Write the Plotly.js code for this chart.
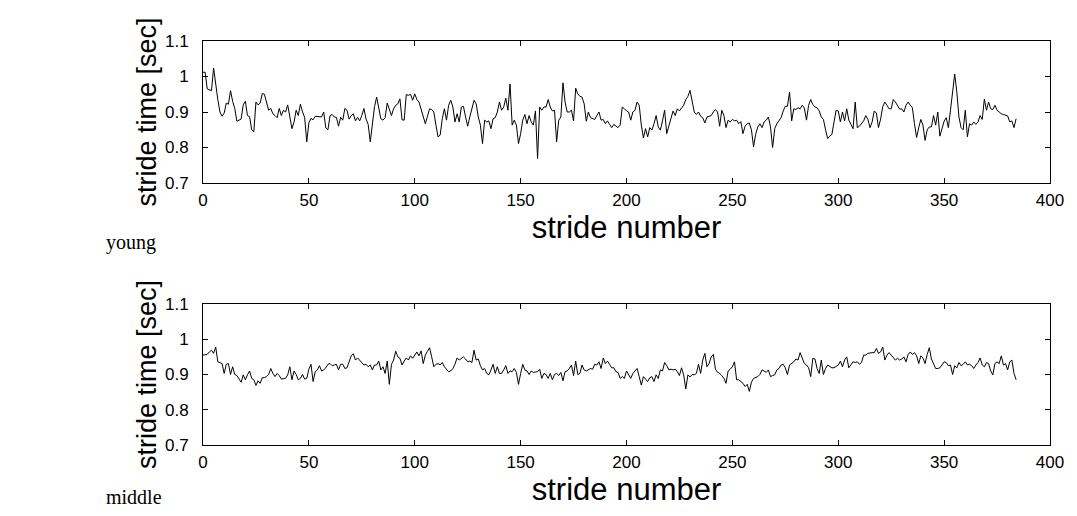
<!DOCTYPE html>
<html>
<head>
<meta charset="utf-8">
<script src="https://cdn.plot.ly/plotly-3.0.1.min.js"></script>
<style>
html,body{margin:0;padding:0;background:#fff;}
#chart{width:1077px;height:516px;}
</style>
</head>
<body>
<div id="chart"></div>
<script>
// Stride time [sec] per stride
const youngStrideTime = [
1.012,1.012,0.965,0.962,0.960,1.024,0.970,0.935,0.900,0.888,
0.897,0.925,0.922,0.960,0.930,0.910,0.874,0.876,0.880,0.920,
0.930,0.890,0.887,0.850,0.844,0.928,0.920,0.925,0.952,0.950,
0.928,0.905,0.910,0.895,0.890,0.884,0.910,0.890,0.905,0.900,
0.920,0.880,0.853,0.872,0.905,0.890,0.922,0.900,0.885,0.816,
0.870,0.882,0.878,0.888,0.887,0.888,0.886,0.900,0.855,0.850,
0.890,0.893,0.886,0.885,0.860,0.885,0.877,0.910,0.905,0.880,
0.890,0.895,0.875,0.885,0.875,0.890,0.910,0.880,0.865,0.816,
0.870,0.915,0.942,0.914,0.881,0.877,0.884,0.925,0.909,0.890,
0.909,0.919,0.923,0.937,0.878,0.877,0.949,0.947,0.950,0.933,
0.951,0.935,0.928,0.909,0.886,0.867,0.888,0.909,0.907,0.900,
0.863,0.830,0.835,0.881,0.909,0.877,0.919,0.933,0.914,0.872,
0.895,0.872,0.914,0.916,0.886,0.860,0.886,0.909,0.933,0.923,
0.886,0.863,0.811,0.877,0.872,0.875,0.853,0.881,0.884,0.900,
0.928,0.905,0.914,0.939,0.905,0.979,0.863,0.877,0.863,0.811,
0.839,0.877,0.893,0.867,0.890,0.872,0.863,0.903,0.769,0.914,
0.905,0.914,0.914,0.935,0.914,0.903,0.905,0.816,0.877,0.886,
0.982,0.928,0.900,0.900,0.905,0.875,0.967,0.951,0.944,0.942,
0.923,0.874,0.900,0.884,0.881,0.879,0.890,0.900,0.877,0.879,
0.867,0.875,0.865,0.856,0.865,0.860,0.856,0.863,0.914,0.909,
0.903,0.900,0.877,0.900,0.905,0.928,0.919,0.863,0.827,0.853,
0.830,0.856,0.849,0.867,0.890,0.858,0.849,0.875,0.905,0.839,
0.863,0.886,0.903,0.890,0.909,0.903,0.911,0.919,0.935,0.944,
0.961,0.925,0.900,0.893,0.900,0.888,0.884,0.869,0.886,0.888,
0.890,0.900,0.907,0.900,0.860,0.905,0.890,0.856,0.877,0.872,
0.879,0.875,0.877,0.867,0.873,0.839,0.860,0.867,0.869,0.850,
0.802,0.837,0.858,0.867,0.856,0.872,0.877,0.886,0.858,0.800,
0.853,0.867,0.875,0.884,0.903,0.916,0.916,0.956,0.875,0.909,
0.907,0.912,0.909,0.919,0.911,0.877,0.919,0.935,0.921,0.914,
0.912,0.903,0.886,0.879,0.850,0.825,0.832,0.837,0.872,0.905,
0.903,0.872,0.900,0.875,0.909,0.877,0.865,0.853,0.928,0.856,
0.860,0.867,0.875,0.890,0.879,0.856,0.872,0.903,0.897,0.856,
0.880,0.915,0.928,0.919,0.909,0.909,0.935,0.928,0.919,0.908,
0.909,0.900,0.919,0.928,0.919,0.912,0.867,0.828,0.856,0.879,
0.863,0.820,0.850,0.858,0.858,0.890,0.863,0.900,0.832,0.853,
0.874,0.884,0.856,0.905,0.956,1.007,0.956,0.886,0.856,0.850,
0.905,0.830,0.867,0.863,0.872,0.865,0.872,0.890,0.879,0.937,
0.905,0.928,0.909,0.907,0.919,0.905,0.900,0.895,0.893,0.890,
0.889,0.872,0.875,0.856,0.881
];

const middleStrideTime = [
0.955,0.955,0.957,0.964,0.969,0.960,0.978,0.936,0.934,0.931,
0.903,0.929,0.931,0.900,0.922,0.900,0.897,0.889,0.878,0.899,
0.885,0.899,0.910,0.889,0.885,0.869,0.882,0.875,0.891,0.891,
0.894,0.900,0.917,0.903,0.894,0.903,0.897,0.887,0.889,0.889,
0.899,0.922,0.885,0.910,0.900,0.885,0.889,0.900,0.887,0.889,
0.915,0.929,0.880,0.908,0.913,0.925,0.910,0.913,0.919,0.929,
0.931,0.925,0.927,0.929,0.913,0.929,0.929,0.917,0.919,0.938,
0.953,0.959,0.941,0.947,0.941,0.934,0.927,0.929,0.922,0.927,
0.913,0.927,0.927,0.938,0.913,0.922,0.903,0.938,0.872,0.929,
0.941,0.966,0.950,0.946,0.927,0.938,0.947,0.941,0.953,0.946,
0.955,0.964,0.953,0.967,0.931,0.955,0.966,0.976,0.950,0.922,
0.929,0.931,0.927,0.934,0.922,0.915,0.908,0.910,0.917,0.929,
0.947,0.941,0.947,0.950,0.944,0.936,0.938,0.934,0.969,0.941,
0.944,0.925,0.913,0.917,0.903,0.899,0.913,0.929,0.903,0.922,
0.903,0.903,0.913,0.925,0.903,0.910,0.908,0.917,0.906,0.872,
0.903,0.929,0.913,0.910,0.900,0.910,0.906,0.906,0.908,0.915,
0.889,0.903,0.900,0.889,0.903,0.885,0.900,0.903,0.897,0.906,
0.882,0.908,0.910,0.917,0.927,0.897,0.938,0.900,0.903,0.927,
0.913,0.910,0.913,0.917,0.915,0.929,0.927,0.936,0.917,0.947,
0.931,0.938,0.929,0.919,0.919,0.908,0.906,0.889,0.894,0.889,
0.910,0.899,0.889,0.903,0.910,0.917,0.894,0.870,0.894,0.887,
0.880,0.891,0.894,0.880,0.899,0.889,0.913,0.910,0.934,0.925,
0.913,0.915,0.913,0.915,0.908,0.897,0.919,0.899,0.859,0.899,
0.893,0.900,0.899,0.903,0.929,0.903,0.941,0.960,0.922,0.931,
0.950,0.957,0.915,0.906,0.903,0.897,0.889,0.875,0.910,0.915,
0.922,0.936,0.885,0.885,0.880,0.875,0.866,0.872,0.852,0.878,
0.889,0.891,0.894,0.900,0.913,0.910,0.906,0.913,0.894,0.897,
0.899,0.913,0.917,0.927,0.929,0.919,0.900,0.927,0.931,0.936,
0.944,0.941,0.962,0.946,0.931,0.927,0.919,0.894,0.946,0.944,
0.917,0.903,0.941,0.900,0.917,0.927,0.922,0.919,0.919,0.922,
0.927,0.938,0.922,0.941,0.950,0.919,0.927,0.936,0.934,0.936,
0.929,0.934,0.955,0.955,0.960,0.962,0.962,0.962,0.974,0.960,
0.964,0.978,0.941,0.955,0.962,0.955,0.947,0.941,0.946,0.941,
0.944,0.950,0.936,0.957,0.964,0.957,0.962,0.953,0.931,0.953,
0.947,0.931,0.957,0.976,0.944,0.931,0.917,0.917,0.919,0.927,
0.936,0.934,0.925,0.927,0.900,0.925,0.919,0.934,0.925,0.929,
0.936,0.927,0.929,0.925,0.917,0.927,0.934,0.947,0.927,0.922,
0.934,0.931,0.910,0.899,0.931,0.936,0.931,0.953,0.927,0.931,
0.913,0.936,0.941,0.903,0.885
];

const xTickVals = [0, 50, 100, 150, 200, 250, 300, 350, 400];
const yTickVals = [0.7, 0.8, 0.9, 1.0, 1.1];
const yTickText = ["0.7", "0.8", "0.9", "1", "1.1"];
const groupLabels = ["young", "middle"];
const xTitle = "stride number";
const yTitle = "stride time [sec]";

const W = 1077, H = 516;
const xDom = [203 / W, 1050 / W];
const topDom = [(H - 183) / H, (H - 41) / H];
const botDom = [(H - 445) / H, (H - 304) / H];

const strideIdx = arr => arr.map((_, i) => i);

const traces = [
  {x: strideIdx(youngStrideTime), y: youngStrideTime, xaxis: 'x', yaxis: 'y',
   type: 'scatter', mode: 'lines', line: {color: '#000', width: 1}, hoverinfo: 'x+y'},
  {x: strideIdx(middleStrideTime), y: middleStrideTime, xaxis: 'x2', yaxis: 'y2',
   type: 'scatter', mode: 'lines', line: {color: '#000', width: 1}, hoverinfo: 'x+y'}
];

const sans = 'Liberation Sans, Arial, sans-serif';
const xTickFont = {family: sans, size: 17, color: '#000'};
const yTickFont = {family: sans, size: 17, color: '#000'};

function xAxis(anchor) {
  return {
    domain: xDom, anchor: anchor, range: [0, 400], tickvals: xTickVals,
    ticks: 'inside', ticklen: 5, tickwidth: 1, tickcolor: '#000',
    showline: true, linecolor: '#000', linewidth: 1, mirror: 'ticks',
    showgrid: false, zeroline: false, tickfont: xTickFont, ticklabelstandoff: 2,
    title: {text: xTitle, font: {family: sans, size: 31, color: '#000'}, standoff: 2},
    fixedrange: true
  };
}
function yAxis(dom, anchor) {
  return {
    domain: dom, anchor: anchor, range: [0.7, 1.1], tickvals: yTickVals, ticktext: yTickText,
    ticks: 'inside', ticklen: 5, tickwidth: 1, tickcolor: '#000',
    showline: true, linecolor: '#000', linewidth: 1, mirror: 'ticks',
    showgrid: false, zeroline: false, tickfont: yTickFont, ticklabelstandoff: 10,
    title: {text: yTitle, font: {family: sans, size: 27, color: '#000'}, standoff: 0},
    fixedrange: true
  };
}

const serif = 'Liberation Serif, DejaVu Serif, serif';
const layout = {
  width: W, height: H,
  margin: {l: 0, r: 0, t: 0, b: 0},
  paper_bgcolor: '#fff', plot_bgcolor: '#fff',
  showlegend: false,
  xaxis: xAxis('y'),
  yaxis: yAxis(topDom, 'x'),
  xaxis2: xAxis('y2'),
  yaxis2: yAxis(botDom, 'x2'),
  annotations: [
    {text: groupLabels[0], xref: 'paper', yref: 'paper', x: 104 / W, y: (H - 243) / H,
     xanchor: 'left', yanchor: 'middle', showarrow: false,
     font: {family: serif, size: 20, color: '#000'}},
    {text: groupLabels[1], xref: 'paper', yref: 'paper', x: 104 / W, y: (H - 497) / H,
     xanchor: 'left', yanchor: 'middle', showarrow: false,
     font: {family: serif, size: 20, color: '#000'}}
  ]
};

Plotly.newPlot('chart', traces, layout, {displayModeBar: false, staticPlot: true});
</script>
</body>
</html>
